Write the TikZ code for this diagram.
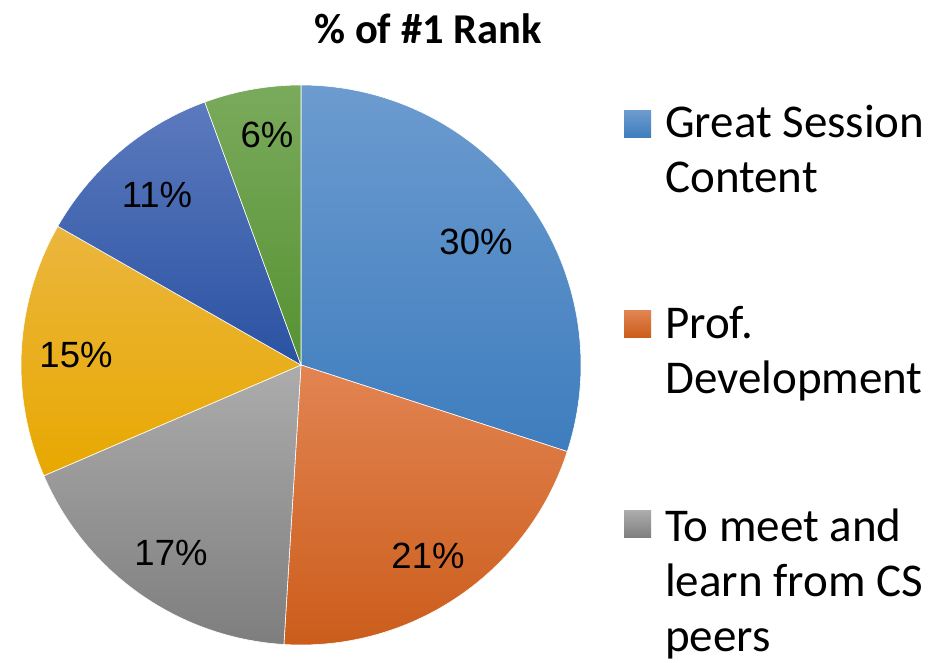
\documentclass[tikz,border=0pt]{standalone}
\usepackage{fontspec}
\setmainfont{Carlito}
\newfontfamily\arialfont{Liberation Sans}
\usepackage{xcolor}
\usepackage{tikz}

\definecolor{bleuHaut}{RGB}{108,155,207}
\definecolor{bleuBas}{RGB}{62,125,190}
\definecolor{orangeHaut}{RGB}{226,132,82}
\definecolor{orangeBas}{RGB}{203,92,26}
\definecolor{grisHaut}{RGB}{172,172,172}
\definecolor{grisBas}{RGB}{126,126,126}
\definecolor{jauneHaut}{RGB}{235,182,62}
\definecolor{jauneBas}{RGB}{232,168,0}
\definecolor{marineHaut}{RGB}{92,122,190}
\definecolor{marineBas}{RGB}{42,82,162}
\definecolor{vertHaut}{RGB}{122,170,92}
\definecolor{vertBas}{RGB}{86,146,50}

\begin{document}
\begin{tikzpicture}[x=1pt,y=1pt]
% Styles
\tikzstyle{part}=[draw=white,line width=0.6pt]
\tikzstyle{pourcent}=[inner sep=0pt,font={\arialfont\fontsize{36.5}{40}\selectfont}]
\tikzstyle{legende}=[inner sep=0pt,anchor=base west,font={\fontsize{47}{55}\selectfont}]
\tikzstyle{carre}=[inner sep=0pt,minimum size=27pt,anchor=south west]
% Dimensions
\def\Rayon{280}
\def\Interligne{55}
\useasboundingbox (0,0) rectangle (947,-663);
% Titre
\node[inner sep=0pt,font={\bfseries\fontsize{42.5}{48}\selectfont}] (titre) at (428,-29) {\% of \#1 Rank};
% Secteurs (30, 21, 17, 15, 11, 6 %)
\coordinate (O) at (301,-365);
\path[part,top color=bleuHaut,bottom color=bleuBas] (O) -- ++(90:\Rayon) arc[start angle=90,end angle=-18,radius=\Rayon] -- cycle;
\path[part,top color=orangeHaut,bottom color=orangeBas] (O) -- ++(-18:\Rayon) arc[start angle=-18,end angle=-93.5,radius=\Rayon] -- cycle;
\path[part,top color=grisHaut,bottom color=grisBas] (O) -- ++(-93.5:\Rayon) arc[start angle=-93.5,end angle=-156.7,radius=\Rayon] -- cycle;
\path[part,top color=jauneHaut,bottom color=jauneBas] (O) -- ++(-156.7:\Rayon) arc[start angle=-156.7,end angle=-209.7,radius=\Rayon] -- cycle;
\path[part,top color=marineHaut,bottom color=marineBas] (O) -- ++(-209.7:\Rayon) arc[start angle=-209.7,end angle=-249.9,radius=\Rayon] -- cycle;
\path[part,top color=vertHaut,bottom color=vertBas] (O) -- ++(-249.9:\Rayon) arc[start angle=-249.9,end angle=-270,radius=\Rayon] -- cycle;
% Etiquettes
\node[pourcent] (p30) at (476,-242) {30\%};
\node[pourcent] (p21) at (428,-556) {21\%};
\node[pourcent] (p17) at (171,-553) {17\%};
\node[pourcent] (p15) at (76,-355) {15\%};
\node[pourcent] (p11) at (157,-195) {11\%};
\node[pourcent] (p6) at (267,-135) {6\%};
% Legende
\node[carre,top color=bleuHaut,bottom color=bleuBas] (c1) at (624,-138) {};
\node[legende] (l1a) at (665,-138) {Great Session};
\node[legende] (l1b) at (665,{-138-\Interligne}) {Content};
\node[carre,top color=orangeHaut,bottom color=orangeBas] (c2) at (624,-338) {};
\node[legende] (l2a) at (665,-338) {Prof.};
\node[legende] (l2b) at (665,{-338-\Interligne}) {Development};
\node[carre,top color=grisHaut,bottom color=grisBas] (c3) at (624,-538) {};
\node[legende] (l3a) at (665,-541) {To meet and};
\node[legende] (l3b) at (665,{-541-\Interligne}) {learn from CS};
\node[legende] (l3c) at (665,{-541-2*\Interligne}) {peers};
\end{tikzpicture}
\end{document}
